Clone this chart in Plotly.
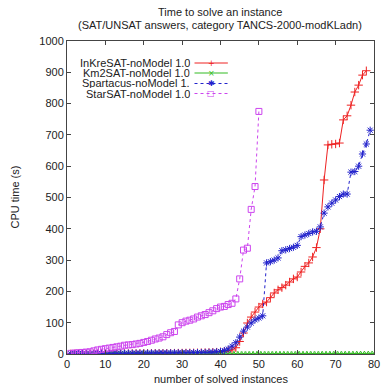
import plotly.graph_objects as go

# ---- data ----
inkresat = [0.5, 0.5, 0.6, 0.6, 0.7, 0.7, 0.8, 0.8, 0.9, 1, 1, 1.1, 1.2, 1.3, 1.4, 1.5, 1.6, 1.7, 1.8, 2,
            2, 2.1, 2.2, 2.3, 2.4, 2.5, 2.6, 2.8, 3, 3.2, 3.4, 3.6, 3.8, 4, 4.2, 4.5, 5, 5.5, 6, 7,
            8, 10, 13,
            20, 40, 67, 99, 118, 134, 150, 160, 166, 180, 195, 205, 212, 220, 230, 240, 246, 262, 280, 291,
            310, 340, 400, 556, 668, 670, 671, 674, 748, 761, 795, 837, 859, 891, 905]
km2sat = [0.1, 0.1, 0.1, 0.1, 0.1, 0.1, 0.1, 0.1, 0.1, 0.1, 0.2, 0.2, 0.2, 0.2, 0.2, 0.2, 0.2, 0.2, 0.2, 0.2,
          0.3, 0.3, 0.3, 0.3, 0.3, 0.3, 0.3, 0.3, 0.3, 0.3, 0.4, 0.4, 0.4, 0.4, 0.4, 0.4, 0.4, 0.4, 0.4, 0.4,
          0.5, 0.5, 0.5, 0.5, 0.5, 0.5, 0.5, 0.5, 0.5, 0.5, 0.6, 0.6, 0.6, 0.6, 0.6, 0.6, 0.6, 0.6, 0.6, 0.6,
          0.7, 0.7, 0.7, 0.7, 0.7, 0.8, 0.8, 0.8, 0.8, 0.8, 0.9, 0.9, 0.9, 1.0, 1.0, 1.1, 1.2, 1.3, 1.5, 1.8]
spartacus = [1, 1, 1.2, 1.3, 1.4, 1.5, 1.6, 1.7, 1.8, 2, 2, 2.1, 2.2, 2.3, 2.4, 2.5, 2.6, 2.7, 2.8, 3,
             3, 3.1, 3.2, 3.3, 3.4, 3.5, 3.6, 3.7, 3.8, 4, 4, 4.2, 4.4, 4.6, 4.8, 5, 5.5, 6, 7, 8,
             11, 16, 25, 36, 54, 73, 86, 99, 109, 115, 122, 291, 295, 300, 307, 330, 333, 337, 341, 347,
             375, 380, 385, 390, 392, 406, 450, 470, 482, 492, 503, 511, 511, 581, 583, 600, 639, 671, 715]
starsat = [2, 3, 4, 5, 6, 7, 10, 13, 15, 17, 19, 21, 23, 25, 28, 29, 30, 32, 34, 37,
           40, 44, 48, 51, 55, 62, 68, 72, 93, 100, 105, 108, 112, 118, 122, 126, 132, 138, 145, 150,
           152, 158, 162, 176, 240, 332, 338, 462, 535, 775]

series_names = ["InKreSAT-noModel 1.0", "Km2SAT-noModel 1.0", "Spartacus-noModel 1.", "StarSAT-noModel 1.0"]
series_values = [inkresat, km2sat, spartacus, starsat]

title_lines = ["Time to solve an instance", "(SAT/UNSAT answers, category TANCS-2000-modKLadn)"]
x_ticks = [0, 10, 20, 30, 40, 50, 60, 70, 80]
y_ticks = [0, 100, 200, 300, 400, 500, 600, 700, 800, 900, 1000]

# ---- styles ----
colors = ["#ee2222", "#33bb22", "#2222cc", "#cc44ee"]
symbols = ["cross-thin-open", "x-thin-open", "asterisk-open", "square-open"]
dashes = ["solid", "solid", "dot", "dot"]
msizes = [6, 5, 6, 6]
legend_glyphs = ["+", "×", "✱", "□"]

FONT = "Liberation Sans, Arial, sans-serif"

fig = go.Figure()
for name, vals, c, s, d, ms in zip(series_names, series_values, colors, symbols, dashes, msizes):
    fig.add_trace(go.Scatter(
        x=list(range(1, len(vals) + 1)), y=vals, name=name,
        mode="lines+markers",
        line=dict(color=c, width=1, dash=d),
        marker=dict(symbol=s, size=ms, color=c, line=dict(color=c, width=1)),
        showlegend=False,
    ))

# custom gnuplot-style legend (text right-aligned, sample to the right)
row_y = [63, 73, 83.5, 93.5]
for name, c, d, g, ry in zip(series_names, colors, dashes, legend_glyphs, row_y):
    yp = 1 - (ry - 41) / (354 - 41)
    fig.add_annotation(xref="paper", yref="paper", x=(193 - 67) / 313, y=yp,
                       text=name, showarrow=False, xanchor="right", yanchor="middle",
                       height=10, borderpad=0,
                       font=dict(family=FONT, size=11, color="#222"))
    fig.add_shape(type="line", xref="paper", yref="paper",
                  x0=(197 - 67) / 313, x1=(231 - 67) / 313, y0=yp, y1=yp,
                  line=dict(color=c, width=1, dash=d))
    fig.add_annotation(xref="paper", yref="paper", x=(214 - 67) / 313, y=yp,
                       text=g, showarrow=False, xanchor="center", yanchor="middle",
                       height=9, borderpad=0,
                       font=dict(family="DejaVu Sans", size=8, color=c))

# title (two centred lines)
for line, ys in zip(title_lines, [29, 16.5]):
    fig.add_annotation(xref="paper", yref="paper", x=(223 - 67) / 313, y=1, yshift=ys,
                       text=line, showarrow=False, xanchor="center", yanchor="middle",
                       font=dict(family=FONT, size=11, color="#222"))

# axis titles
fig.add_annotation(xref="paper", yref="paper", x=0, y=0.5, xshift=-53,
                   text="CPU time (s)", textangle=-90, showarrow=False,
                   xanchor="center", yanchor="middle",
                   font=dict(family=FONT, size=11, color="#222"))
fig.add_annotation(xref="paper", yref="paper", x=0.5, y=0, yshift=-25,
                   text="number of solved instances", showarrow=False,
                   xanchor="center", yanchor="middle",
                   font=dict(family=FONT, size=11, color="#222"))

fig.update_layout(
    width=388, height=386,
    margin=dict(l=67, r=8, t=41, b=32),
    paper_bgcolor="white", plot_bgcolor="white",
    font=dict(family=FONT, size=11, color="#222"),
    xaxis=dict(range=[0, 80], tickvals=x_ticks, ticks="inside", ticklen=4, tickcolor="#444",
               showline=True, linecolor="#444", linewidth=1, mirror="ticks",
               showgrid=False, zeroline=False, tickfont=dict(size=11)),
    yaxis=dict(range=[0, 1000], tickvals=y_ticks, ticks="inside", ticklen=4, tickcolor="#444",
               showline=True, linecolor="#444", linewidth=1, mirror="ticks",
               showgrid=False, zeroline=False, tickfont=dict(size=11)),
)

fig.write_html("out.html", config={"displayModeBar": False},
               post_script="document.body.style.margin='0';document.body.style.overflow='hidden';")
